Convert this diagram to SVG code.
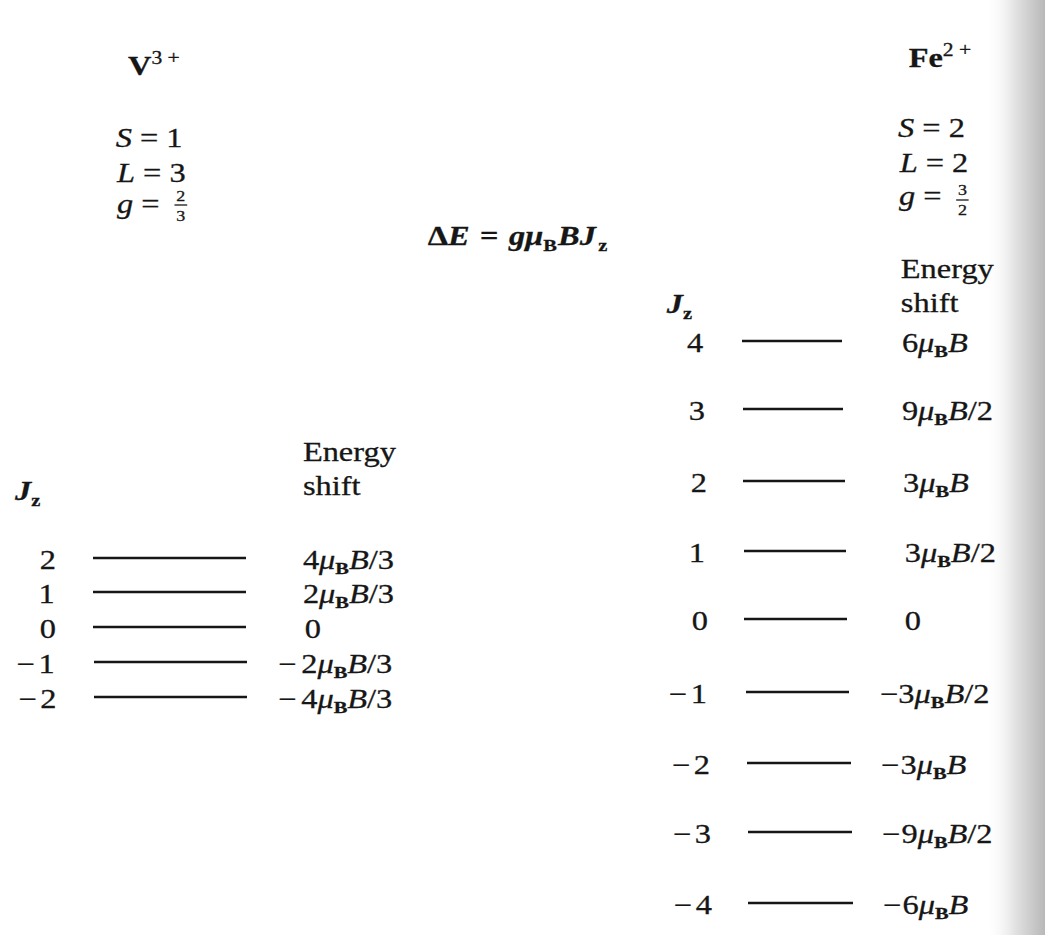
<svg xmlns="http://www.w3.org/2000/svg" width="1045" height="935" viewBox="0 0 1045 935">
<style>
text{font-family:"Liberation Serif","Times New Roman",serif;font-size:27px;fill:#161616;stroke:#161616;stroke-width:0.3}
.it{font-style:italic}
.bd{font-weight:bold}
.bi{font-weight:bold;font-style:italic}
.sub{font-size:17px;font-weight:bold;font-style:normal}
.sup{font-size:18px}
.fr{font-size:15px}
.num{text-anchor:end}
.lvl{stroke:#161616;stroke-width:2.3;fill:none}
.bar{stroke:#161616;stroke-width:1.3}
</style>
<defs>
<linearGradient id="shade" x1="0" y1="0" x2="1" y2="0">
<stop offset="0" stop-color="#ffffff" stop-opacity="0"/>
<stop offset="0.5" stop-color="#e2e2e2" stop-opacity="1"/>
<stop offset="1" stop-color="#b8b8b8" stop-opacity="1"/>
</linearGradient>
</defs>
<rect width="1045" height="935" fill="#ffffff"/>
<rect x="985" y="0" width="60" height="935" fill="url(#shade)"/>

<g id="level-lines">
<line class="lvl" x1="93" y1="558" x2="246" y2="558"/>
<line class="lvl" x1="93" y1="592" x2="246" y2="592"/>
<line class="lvl" x1="93" y1="627" x2="246" y2="627"/>
<line class="lvl" x1="94" y1="662" x2="247" y2="662"/>
<line class="lvl" x1="94" y1="697" x2="247" y2="697"/>
<line class="lvl" x1="742" y1="341" x2="842" y2="341"/>
<line class="lvl" x1="743" y1="409" x2="843" y2="409"/>
<line class="lvl" x1="743" y1="481" x2="845" y2="481"/>
<line class="lvl" x1="744" y1="551" x2="846" y2="551"/>
<line class="lvl" x1="744" y1="619" x2="847" y2="619"/>
<line class="lvl" x1="746" y1="692" x2="849" y2="692"/>
<line class="lvl" x1="747" y1="763" x2="851" y2="763"/>
<line class="lvl" x1="748" y1="832" x2="852" y2="832"/>
<line class="lvl" x1="748" y1="903" x2="853" y2="903"/>
</g>

<g transform="scale(1.2,1)">
<g id="v3-header">
<text x="106.7" y="75"><tspan class="bd">V</tspan><tspan class="sup" dy="-11">3 +</tspan></text>
<text x="96.4" y="147"><tspan class="it">S</tspan> = 1</text>
<text x="97.5" y="182"><tspan class="it">L</tspan> = 3</text>
<text x="97.5" y="213"><tspan class="it">g</tspan> =</text>
<text class="fr" x="150.6" y="201" text-anchor="middle">2</text>
<line class="bar" x1="145.4" y1="205" x2="156" y2="205"/>
<text class="fr" x="150.6" y="221" text-anchor="middle">3</text>
</g>

<g id="formula">
<text class="bd" x="356.4" y="245">Δ<tspan class="bi">E</tspan><tspan dx="2"> = </tspan><tspan class="bi" dx="2">gμ</tspan><tspan class="sub" dy="6">B</tspan><tspan class="bi" dy="-6" dx="1">BJ</tspan><tspan class="sub bi" dy="6" dx="2">z</tspan></text>
</g>

<g id="fe2-header">
<text x="757.2" y="67"><tspan class="bd">Fe</tspan><tspan class="sup" dy="-11">2 +</tspan></text>
<text x="748.4" y="137"><tspan class="it">S</tspan> = 2</text>
<text x="749.7" y="172"><tspan class="it">L</tspan> = 2</text>
<text x="749.1" y="205"><tspan class="it">g</tspan> =</text>
<text class="fr" x="802" y="195.5" text-anchor="middle">3</text>
<line class="bar" x1="796.8" y1="200" x2="807.2" y2="200"/>
<text class="fr" x="802" y="215" text-anchor="middle">2</text>
</g>

<g id="v3-levels">
<text x="12.5" y="500"><tspan class="bi">J</tspan><tspan class="sub bi" dy="6">z</tspan></text>
<text x="252.4" y="461">Energy</text>
<text x="252.4" y="495">shift</text>
<g id="v3-jz2"><text class="num" x="46.6" y="569">2</text><text x="252.4" y="569">4<tspan class="it">μ</tspan><tspan class="sub" dy="5">B</tspan><tspan class="it" dy="-5">B</tspan>/3</text></g>
<g id="v3-jz1"><text class="num" x="45.5" y="603">1</text><text x="252.4" y="603">2<tspan class="it">μ</tspan><tspan class="sub" dy="5">B</tspan><tspan class="it" dy="-5">B</tspan>/3</text></g>
<g id="v3-jz0"><text class="num" x="46.6" y="638">0</text><text x="254" y="638">0</text></g>
<g id="v3-jzm1"><text class="num" x="45.5" y="673">−<tspan dx="3">1</tspan></text><text x="231.8" y="673">−<tspan dx="4">2</tspan><tspan class="it">μ</tspan><tspan class="sub" dy="5">B</tspan><tspan class="it" dy="-5">B</tspan>/3</text></g>
<g id="v3-jzm2"><text class="num" x="47.1" y="708">−<tspan dx="3">2</tspan></text><text x="231.8" y="708">−<tspan dx="4">4</tspan><tspan class="it">μ</tspan><tspan class="sub" dy="5">B</tspan><tspan class="it" dy="-5">B</tspan>/3</text></g>
</g>

<g id="fe2-levels">
<text x="750.7" y="278">Energy</text>
<text x="750.7" y="312">shift</text>
<text x="555.7" y="313"><tspan class="bi">J</tspan><tspan class="sub bi" dy="6">z</tspan></text>
<g id="fe2-jz4"><text class="num" x="585.9" y="352">4</text><text x="751.6" y="352">6<tspan class="it">μ</tspan><tspan class="sub" dy="5">B</tspan><tspan class="it" dy="-5">B</tspan></text></g>
<g id="fe2-jz3"><text class="num" x="587.5" y="420">3</text><text x="751.6" y="420">9<tspan class="it">μ</tspan><tspan class="sub" dy="5">B</tspan><tspan class="it" dy="-5">B</tspan>/2</text></g>
<g id="fe2-jz2"><text class="num" x="589.1" y="492">2</text><text x="752.5" y="492">3<tspan class="it">μ</tspan><tspan class="sub" dy="5">B</tspan><tspan class="it" dy="-5">B</tspan></text></g>
<g id="fe2-jz1"><text class="num" x="587.5" y="562">1</text><text x="754" y="562">3<tspan class="it">μ</tspan><tspan class="sub" dy="5">B</tspan><tspan class="it" dy="-5">B</tspan>/2</text></g>
<g id="fe2-jz0"><text class="num" x="590" y="630">0</text><text x="754" y="630">0</text></g>
<g id="fe2-jzm1"><text class="num" x="589.1" y="703">−<tspan dx="3">1</tspan></text><text x="733.4" y="703">−<tspan dx="0">3</tspan><tspan class="it">μ</tspan><tspan class="sub" dy="5">B</tspan><tspan class="it" dy="-5">B</tspan>/2</text></g>
<g id="fe2-jzm2"><text class="num" x="591.7" y="774">−<tspan dx="3">2</tspan></text><text x="734.2" y="774">−<tspan dx="1">3</tspan><tspan class="it">μ</tspan><tspan class="sub" dy="5">B</tspan><tspan class="it" dy="-5">B</tspan></text></g>
<g id="fe2-jzm3"><text class="num" x="592.5" y="843">−<tspan dx="3">3</tspan></text><text x="735" y="843">−<tspan dx="1">9</tspan><tspan class="it">μ</tspan><tspan class="sub" dy="5">B</tspan><tspan class="it" dy="-5">B</tspan>/2</text></g>
<g id="fe2-jzm4"><text class="num" x="593.3" y="914">−<tspan dx="3">4</tspan></text><text x="735.8" y="914">−<tspan dx="1">6</tspan><tspan class="it">μ</tspan><tspan class="sub" dy="5">B</tspan><tspan class="it" dy="-5">B</tspan></text></g>
</g>
</g>
</svg>
